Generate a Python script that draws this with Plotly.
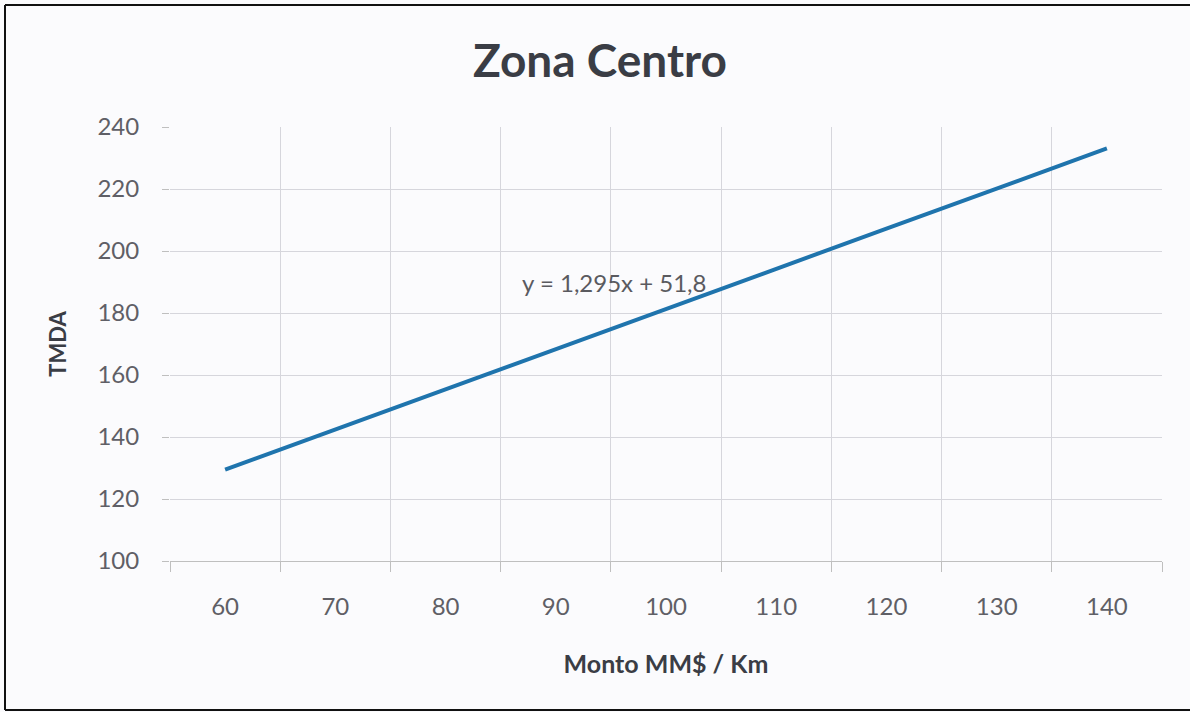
import plotly.graph_objects as go

# Data
monto = [60, 70, 80, 90, 100, 110, 120, 130, 140]
tmda = [129.5, 142.5, 155.4, 168.4, 181.3, 194.3, 207.2, 220.1, 233.1]
x_ticks = [60, 70, 80, 90, 100, 110, 120, 130, 140]
x_grid = [55, 65, 75, 85, 95, 105, 115, 125, 135, 145]
y_ticks = [100, 120, 140, 160, 180, 200, 220, 240]
equation = "y = 1,295x + 51,8"

W, H = 1190, 712
L, R, T, B = 170, 1162, 127, 561

font_fam = "Lato, 'Open Sans', sans-serif"

fig = go.Figure()
fig.add_trace(go.Scatter(
    x=monto, y=tmda, mode="lines",
    line=dict(color="#1f74ad", width=4),
    showlegend=False, hoverinfo="x+y",
))

fig.add_annotation(
    x=95.3, y=189.7, xref="x", yref="y",
    text=equation, showarrow=False,
    font=dict(family=font_fam, size=24, color="#5a5a5f"),
    xanchor="center", yanchor="middle",
)

def px_x(p):
    return (p - L) / (R - L)

def px_y(p):
    return (B - p) / (B - T)

# black scan border (top, left, bottom)
border = dict(color="#111111", width=2)
fig.add_shape(type="line", xref="paper", yref="paper",
              x0=px_x(5), x1=px_x(1190), y0=px_y(5), y1=px_y(5), line=border)
fig.add_shape(type="line", xref="paper", yref="paper",
              x0=px_x(5), x1=px_x(5), y0=px_y(5), y1=px_y(710), line=border)
fig.add_shape(type="line", xref="paper", yref="paper",
              x0=px_x(5), x1=px_x(1190), y0=px_y(710), y1=px_y(710), line=border)

fig.update_layout(
    width=W, height=H,
    margin=dict(l=L, r=W - R, t=T, b=H - B),
    paper_bgcolor="#fbfbfd",
    plot_bgcolor="#fbfbfd",
    title=dict(
        text="<b>Zona Centro</b>",
        x=600 / W, xref="container", xanchor="center",
        y=1 - 61 / H, yanchor="middle",
        font=dict(family=font_fam, size=46, color="#3a3d45"),
    ),
    xaxis=dict(
        range=[55, 145],
        tickmode="array", tickvals=x_ticks, ticktext=[str(v) for v in x_ticks],
        showgrid=False, ticks="", zeroline=False,
        showline=True, linecolor="#bfbfbf", linewidth=1,
        tickfont=dict(family=font_fam, size=24, color="#5f5f66"),
        ticklabelstandoff=24,
        minor=dict(tickmode="array", tickvals=x_grid, showgrid=True,
                   gridcolor="#d6d6dc", gridwidth=1,
                   ticks="outside", ticklen=10, tickcolor="#bfbfbf"),
        title=dict(text="<b>Monto MM$ / Km</b>", standoff=36,
                   font=dict(family=font_fam, size=25, color="#3a3d45")),
        fixedrange=True,
    ),
    yaxis=dict(
        range=[100, 240],
        tickmode="array", tickvals=y_ticks,
        showgrid=True, gridcolor="#d6d6dc", gridwidth=1,
        ticks="outside", ticklen=7, tickcolor="#bfbfbf",
        zeroline=False,
        showline=False,
        tickfont=dict(family=font_fam, size=24, color="#5f5f66"),
        ticklabelstandoff=18,
        title=dict(text="<b>TMDA</b>", standoff=24,
                   font=dict(family=font_fam, size=22, color="#3a3d45")),
        fixedrange=True,
    ),
)

fig.write_html("out.html", config={"displayModeBar": False},
               post_script="document.body.style.margin='0px';")
